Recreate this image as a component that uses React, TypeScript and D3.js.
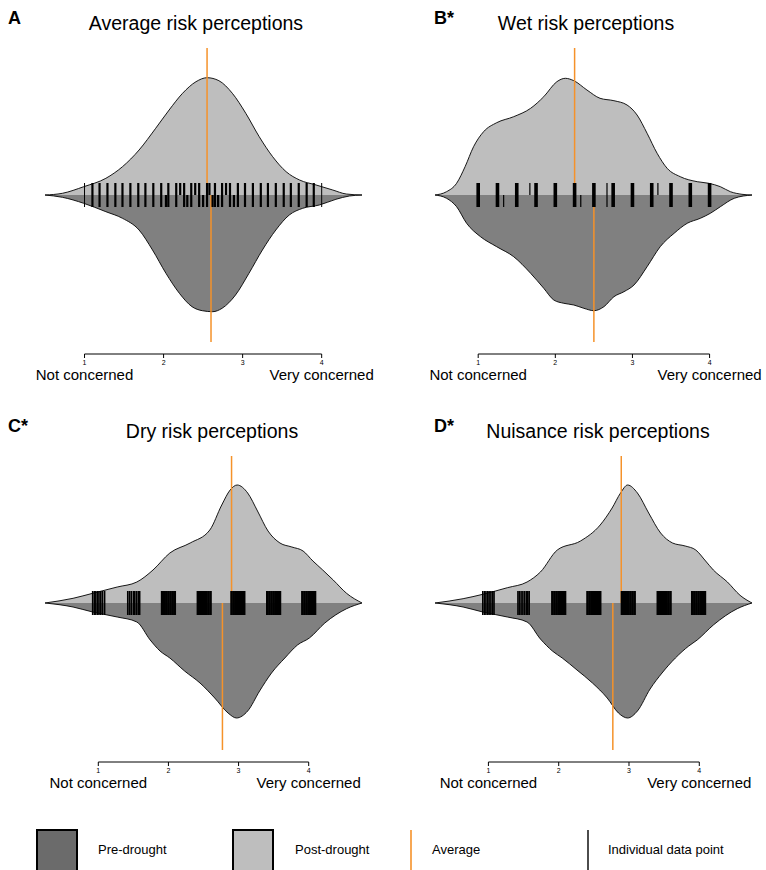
import React from "react";
import * as d3 from "d3";

const W = 766;
const H = 870;
const FONT = "'Liberation Sans', Arial, Helvetica, sans-serif";

const titles = ["Average risk perceptions", "Wet risk perceptions", "Dry risk perceptions", "Nuisance risk perceptions"];
const letters = ["A", "B*", "C*", "D*"];
const tickValues = [1, 2, 3, 4];
const endLabels = ["Not concerned", "Very concerned"];
const legendLabels = ["Pre-drought", "Post-drought", "Average", "Individual data point"];

// score range covered by each bean (density tails included)
const domains = [[0.5, 4.51], [0.44, 4.55], [0.24, 4.76], [0.24, 4.75]];
const meansPre = [2.6, 2.5, 2.77, 2.77];
const meansPost = [2.55, 2.25, 2.9, 2.89];

// density outlines: [score, density]
const avgPost = [[0.5, 0], [0.72, 0.017], [0.99, 0.083], [1.27, 0.167], [1.48, 0.283], [1.69, 0.45], [1.9, 0.667], [2.07, 0.85], [2.24, 1.017], [2.41, 1.133], [2.55, 1.173], [2.7, 1.143], [2.87, 1.017], [3.04, 0.817], [3.21, 0.583], [3.38, 0.383], [3.55, 0.233], [3.72, 0.15], [3.93, 0.1], [4.14, 0.05], [4.31, 0.01], [4.51, 0]];
const avgPre = [[0.5, 0], [0.72, 0.023], [0.99, 0.083], [1.27, 0.167], [1.48, 0.233], [1.69, 0.35], [1.86, 0.55], [2.03, 0.783], [2.2, 0.983], [2.36, 1.117], [2.49, 1.157], [2.62, 1.167], [2.74, 1.133], [2.91, 1.0], [3.08, 0.783], [3.25, 0.55], [3.42, 0.35], [3.59, 0.2], [3.76, 0.133], [3.97, 0.1], [4.18, 0.043], [4.35, 0.01], [4.51, 0]];
const wetPost = [[0.44, 0], [0.59, 0.033], [0.72, 0.117], [0.83, 0.283], [0.94, 0.483], [1.07, 0.633], [1.24, 0.723], [1.46, 0.783], [1.68, 0.867], [1.85, 0.983], [2.02, 1.133], [2.13, 1.167], [2.24, 1.143], [2.41, 1.05], [2.58, 0.967], [2.76, 0.943], [2.93, 0.9], [3.06, 0.8], [3.19, 0.617], [3.32, 0.417], [3.45, 0.267], [3.62, 0.183], [3.84, 0.133], [3.99, 0.117], [4.14, 0.083], [4.27, 0.033], [4.42, 0.007], [4.55, 0]];
const wetPre = [[0.44, 0], [0.59, 0.033], [0.72, 0.117], [0.85, 0.283], [1.03, 0.417], [1.24, 0.517], [1.46, 0.617], [1.68, 0.783], [1.85, 0.933], [1.98, 1.05], [2.11, 1.083], [2.24, 1.1], [2.37, 1.133], [2.5, 1.157], [2.63, 1.117], [2.76, 1.017], [2.89, 0.967], [3.02, 0.9], [3.19, 0.717], [3.36, 0.517], [3.54, 0.383], [3.71, 0.283], [3.88, 0.233], [4.01, 0.183], [4.14, 0.117], [4.32, 0.033], [4.55, 0]];
const dryPost = [[0.24, 0], [0.64, 0.047], [0.92, 0.097], [1.27, 0.16], [1.55, 0.21], [1.78, 0.33], [2.02, 0.5], [2.31, 0.6], [2.59, 0.73], [2.76, 0.98], [2.88, 1.13], [2.98, 1.18], [3.13, 1.1], [3.27, 0.92], [3.42, 0.72], [3.59, 0.6], [3.76, 0.56], [3.92, 0.52], [4.06, 0.42], [4.2, 0.33], [4.35, 0.23], [4.54, 0.097], [4.76, 0]];
const dryPre = [[0.24, 0], [0.64, 0.04], [0.92, 0.09], [1.27, 0.14], [1.55, 0.19], [1.74, 0.37], [1.88, 0.48], [2.02, 0.55], [2.23, 0.68], [2.45, 0.8], [2.66, 0.95], [2.85, 1.1], [2.97, 1.15], [3.13, 1.08], [3.3, 0.88], [3.47, 0.7], [3.66, 0.55], [3.84, 0.42], [4.01, 0.35], [4.23, 0.2], [4.54, 0.057], [4.76, 0]];
const nuisPost = [[0.24, 0], [0.64, 0.043], [0.92, 0.087], [1.27, 0.153], [1.55, 0.21], [1.74, 0.31], [1.98, 0.53], [2.31, 0.62], [2.59, 0.78], [2.76, 0.95], [2.88, 1.1], [2.98, 1.18], [3.12, 1.1], [3.28, 0.9], [3.45, 0.7], [3.62, 0.6], [3.8, 0.57], [3.95, 0.53], [4.09, 0.42], [4.2, 0.33], [4.4, 0.21], [4.58, 0.077], [4.75, 0]];
const nuisPre = [[0.24, 0], [0.64, 0.04], [0.92, 0.09], [1.27, 0.14], [1.55, 0.19], [1.74, 0.36], [1.91, 0.48], [2.05, 0.55], [2.26, 0.67], [2.48, 0.8], [2.69, 0.95], [2.85, 1.1], [2.98, 1.15], [3.12, 1.08], [3.3, 0.86], [3.47, 0.7], [3.66, 0.55], [3.85, 0.43], [3.97, 0.37], [4.2, 0.22], [4.54, 0.057], [4.75, 0]];

// individual responses (bean lines)
const avgRugBoth = [1.1, 1.19, 1.29, 1.39, 1.48, 1.58, 1.68, 1.77, 1.87, 1.97, 2.06, 2.16, 2.26, 2.35, 2.45, 2.55, 2.65, 2.74, 2.84, 2.94, 3.03, 3.13, 3.23, 3.32, 3.42, 3.52, 3.61, 3.71, 3.81, 3.9];
const avgRugPre = [2.03, 2.3, 2.5, 2.62, 2.69, 2.89];
const avgRugPost = [2.21, 2.4, 2.58, 2.79];
const avgRugThin = [1.0, 4.0];
const wetRugBoth = [1.0, 1.25, 1.5, 1.75, 2.0, 2.25, 2.5, 2.75, 3.0, 3.25, 3.5, 3.75, 4.0];
const wetRugThinPre = [1.33, 2.33];
const wetRugThinPost = [1.67, 3.33];
const wetRugThin = [2.67];
const dryRugSolid = [1.91, 1.94, 1.97, 2.0, 2.03, 2.06, 2.09, 2.42, 2.45, 2.48, 2.51, 2.54, 2.57, 2.6, 2.9, 2.93, 2.96, 2.99, 3.02, 3.05, 3.08, 3.41, 3.44, 3.47, 3.5, 3.53, 3.56, 3.59, 3.91, 3.94, 3.97, 4.0, 4.03, 4.06, 4.09];
const dryRugStriped = [0.92, 0.945, 0.965, 0.99, 1.01, 1.035, 1.06, 1.09, 1.42, 1.445, 1.47, 1.5, 1.52, 1.545, 1.57, 1.59];
const nuisRugSolid = [1.91, 1.94, 1.97, 2.0, 2.03, 2.06, 2.09, 2.41, 2.44, 2.47, 2.5, 2.53, 2.56, 2.59, 2.9, 2.93, 2.96, 2.99, 3.02, 3.05, 3.08, 3.41, 3.44, 3.47, 3.5, 3.53, 3.56, 3.59, 3.9, 3.93, 3.96, 3.99, 4.02, 4.05, 4.08];
const nuisRugStriped = [0.92, 0.945, 0.965, 0.99, 1.01, 1.035, 1.06, 1.08, 1.42, 1.44, 1.465, 1.49, 1.515, 1.54, 1.56, 1.58];

const panels = [
  { post: avgPost, pre: avgPre, thick: { both: avgRugBoth, pre: avgRugPre, post: avgRugPost }, thin: { both: avgRugThin, pre: [], post: [] }, thickW: 2.2, thinW: 1 },
  { post: wetPost, pre: wetPre, thick: { both: wetRugBoth, pre: [], post: [] }, thin: { both: wetRugThin, pre: wetRugThinPre, post: wetRugThinPost }, thickW: 3.6, thinW: 1.2 },
  { post: dryPost, pre: dryPre, thick: { both: dryRugSolid, pre: [], post: [] }, thin: { both: dryRugStriped, pre: [], post: [] }, thickW: 2.6, thinW: 1.6 },
  { post: nuisPost, pre: nuisPre, thick: { both: nuisRugSolid, pre: [], post: [] }, thin: { both: nuisRugStriped, pre: [], post: [] }, thickW: 2.6, thinW: 1.6 },
];

const titleX = [196, 586, 212, 598];
const ORANGE = "#f5922a";
const LIGHT = "#bebebe";
const DARK = "#808080";

function Panel({ i }: { i: number }) {
  const p = panels[i];
  const left = i % 2 === 0 ? 45 : 435;
  const cy = i < 2 ? 195 : 603;
  const axisY = cy + 159;
  const x = d3.scaleLinear().domain(domains[i]).range([left, left + 317]);
  const h = d3.scaleLinear().domain([0, 1]).range([0, 100]);

  const upArea = d3.area<number[]>().x(d => x(d[0])).y0(cy).y1(d => cy - h(d[1])).curve(d3.curveMonotoneX);
  const downArea = d3.area<number[]>().x(d => x(d[0])).y0(cy).y1(d => cy + h(d[1])).curve(d3.curveMonotoneX);
  const upLine = d3.line<number[]>().x(d => x(d[0])).y(d => cy - h(d[1])).curve(d3.curveMonotoneX);
  const downLine = d3.line<number[]>().x(d => x(d[0])).y(d => cy + h(d[1])).curve(d3.curveMonotoneX);

  const rug = (vals: number[], y1: number, y2: number, w: number, key: string) =>
    vals.map((v, k) => (
      <line key={key + k} x1={x(v)} x2={x(v)} y1={y1} y2={y2} stroke="#000" strokeWidth={w} />
    ));

  return (
    <g>
      <text x={i % 2 === 0 ? 8 : 434} y={cy - 171} fontSize={18} fontWeight="bold" fontFamily={FONT}>{letters[i]}</text>
      <text x={titleX[i]} y={cy - 165} fontSize={19.5} textAnchor="middle" fontFamily={FONT}>{titles[i]}</text>

      <path d={downArea(p.pre) || ""} fill={DARK} />
      <path d={upArea(p.post) || ""} fill={LIGHT} />
      <path d={downLine(p.pre) || ""} fill="none" stroke="#000" strokeWidth={0.9} />
      <path d={upLine(p.post) || ""} fill="none" stroke="#000" strokeWidth={0.9} />

      <line x1={x(meansPost[i])} x2={x(meansPost[i])} y1={cy - 147} y2={cy} stroke={ORANGE} strokeWidth={1.5} />
      <line x1={x(meansPre[i])} x2={x(meansPre[i])} y1={cy} y2={cy + 147} stroke={ORANGE} strokeWidth={1.5} />

      {rug(p.thick.both, cy - 12, cy + 12, p.thickW, "tb")}
      {rug(p.thick.pre, cy, cy + 12, p.thickW, "tpr")}
      {rug(p.thick.post, cy - 12, cy, p.thickW, "tpo")}
      {rug(p.thin.both, cy - 12, cy + 12, p.thinW, "nb")}
      {rug(p.thin.pre, cy, cy + 12, p.thinW, "npr")}
      {rug(p.thin.post, cy - 12, cy, p.thinW, "npo")}

      <g fontFamily={FONT}>
        <line x1={x(1)} x2={x(4)} y1={axisY} y2={axisY} stroke="#000" strokeWidth={1} />
        {tickValues.map(t => (
          <g key={t}>
            <line x1={x(t)} x2={x(t)} y1={axisY} y2={axisY + 4} stroke="#000" strokeWidth={1} />
            <text x={x(t)} y={axisY + 11} fontSize={7} textAnchor="middle">{t}</text>
          </g>
        ))}
        <text x={x(1)} y={axisY + 26} fontSize={15} textAnchor="middle">{endLabels[0]}</text>
        <text x={x(4)} y={axisY + 26} fontSize={15} textAnchor="middle">{endLabels[1]}</text>
      </g>
    </g>
  );
}

function Legend() {
  const y0 = 830;
  return (
    <g fontFamily={FONT} fontSize={13}>
      <rect x={37} y={y0} width={40} height={44} fill="#6b6b6b" stroke="#000" strokeWidth={2} />
      <text x={98} y={854}>{legendLabels[0]}</text>
      <rect x={233} y={y0} width={40} height={44} fill={LIGHT} stroke="#000" strokeWidth={2} />
      <text x={295} y={854}>{legendLabels[1]}</text>
      <line x1={411} x2={411} y1={y0} y2={H} stroke={ORANGE} strokeWidth={1.6} />
      <text x={432} y={854}>{legendLabels[2]}</text>
      <line x1={588} x2={588} y1={y0} y2={H} stroke="#000" strokeWidth={1.4} />
      <text x={608} y={854}>{legendLabels[3]}</text>
    </g>
  );
}

export default function App() {
  return (
    <svg width={W} height={H} style={{ position: "absolute", left: 0, top: 0, background: "#fff" }}>
      {[0, 1, 2, 3].map(i => <Panel key={i} i={i} />)}
      <Legend />
    </svg>
  );
}
